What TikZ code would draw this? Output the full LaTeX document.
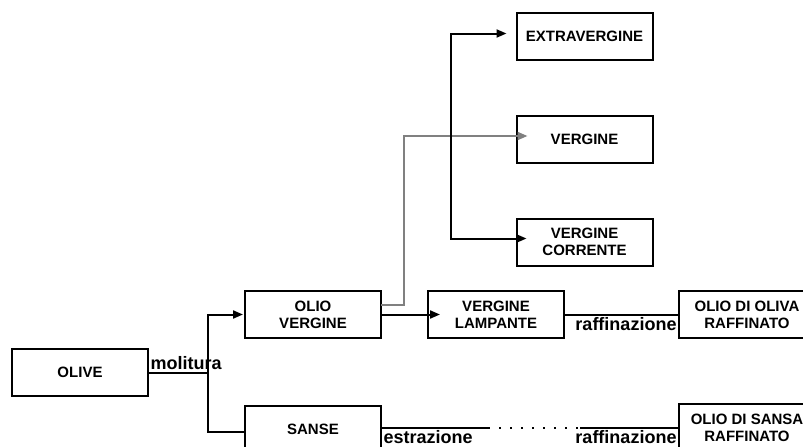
\documentclass[tikz,border=0pt]{standalone}
\usepackage{fontspec}
\setmainfont{Liberation Sans}
\usetikzlibrary{arrows.meta,positioning}

\begin{document}
\begin{tikzpicture}[
        x=1pt, y=-1pt,
        line width=2pt,
        block/.style={rectangle, draw, minimum width=136pt, minimum height=47pt, align=center, inner sep=1pt, outer sep=0pt, font=\bfseries\fontsize{15}{17}\selectfont},
        arrow/.style={-{Triangle[length=10pt,width=8pt]}},
        lbl/.style={inner sep=1.5pt, font=\bfseries\fontsize{18}{20}\selectfont}
    ]
        \clip (0,0) rectangle (803,447);
        \fill[white] (0,0) rectangle (803,447);
        \node[block] (olive) at (80,372.5) {OLIVE};
        \node[block, above right=11pt and 97pt of olive] (oliover) {OLIO\\VERGINE};
        \node[block, below right=10pt and 97pt of olive] (sanse) {SANSE};
        \node[block, right=47pt of oliover] (lampante) {VERGINE\\LAMPANTE};
        \node[block, right=115pt of lampante] (olivaraff) {OLIO DI OLIVA\\RAFFINATO};
        \node[block] (sansaraff) at (747,427.5) {OLIO DI SANSA\\RAFFINATO};
        \node[block] (vergine) at (584.5,139) {VERGINE};
        \node[block, above=56pt of vergine] (extra) {EXTRAVERGINE};
        \node[block, below=56pt of vergine] (corrente) {VERGINE\\CORRENTE};
        \coordinate (split) at (208,372.5);
        \coordinate (brk) at (451,136);
        \coordinate (dotA) at (488,427.5);
        \coordinate (dotB) at (580,427.5);
        \draw (olive) -- node[lbl, above right, pos=0] {molitura} (split);
        \draw[arrow] (split) |- ([xshift=-2pt]oliover.west);
        \draw (split) |- ([yshift=-2pt]sanse.west);
        \draw[arrow, gray] ([yshift=9.5pt]oliover.east) -| ++(23,-60) |- ([xshift=11pt,yshift=3pt]vergine.west);
        \draw[arrow] (oliover.east) -- ([xshift=12pt]lampante.west |- oliover.east);
        \draw[{Triangle[length=10pt,width=8pt]}-{Triangle[length=10pt,width=8pt]}] ([xshift=-10pt,yshift=2.5pt]extra.west) -| (brk) |- ([xshift=10pt,yshift=3.5pt]corrente.west);
        \draw (lampante.east |- olivaraff.west) -- node[lbl, below left, pos=1] {raffinazione} (olivaraff.west);
        \draw (sanse.east |- sansaraff.west) -- node[lbl, below right, pos=0] {estrazione} (dotA);
        \draw[line width=2pt, dash pattern=on 2pt off 9pt] (dotA) -- (dotB);
        \draw (dotB) -- node[lbl, below left, pos=1] {raffinazione} (sansaraff.west);
    \end{tikzpicture}
\end{document}
